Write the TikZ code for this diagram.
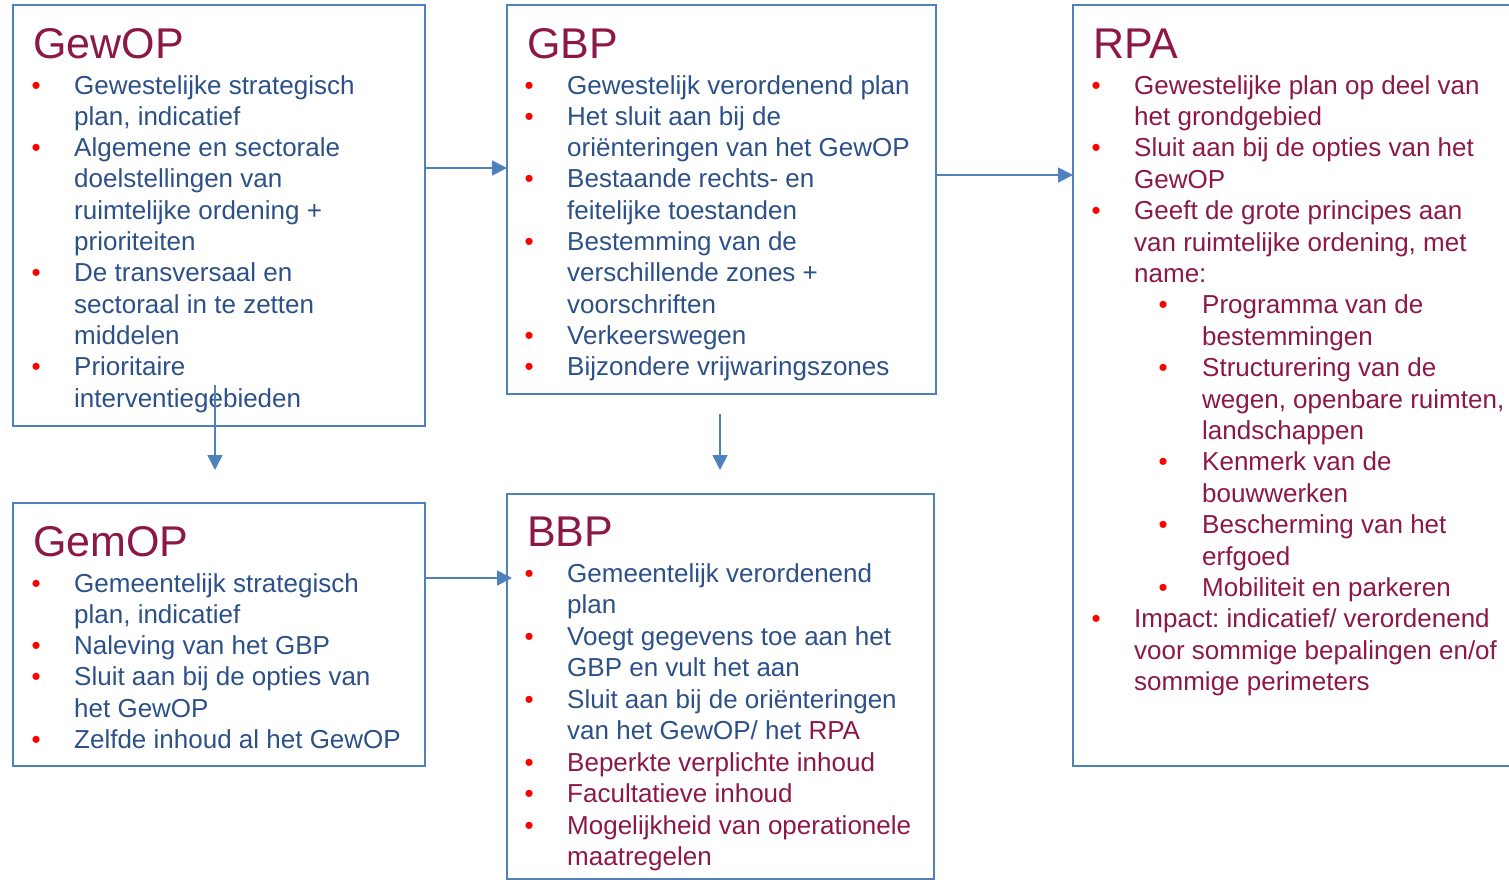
\documentclass[tikz,border=0pt]{standalone}
\usepackage{fontspec}
\setmainfont{Liberation Sans}
\usetikzlibrary{arrows.meta,calc}
\frenchspacing
\definecolor{bordblue}{RGB}{79,129,189}
\definecolor{txtblue}{RGB}{44,80,136}
\definecolor{titmaroon}{RGB}{140,24,72}
\definecolor{bulred}{RGB}{255,0,0}
\newcommand{\bul}{\makebox[0pt][c]{\textcolor{bulred}{\textbullet}}}
\newcommand{\itm}[1]{\hangindent=38pt\hangafter=1\noindent\makebox[38pt][l]{\bul}#1\par}
\newcommand{\subitm}[1]{\hangindent=106pt\hangafter=1\noindent\makebox[106pt][l]{\hspace{67pt}\bul}#1\par}
\newcommand{\btext}[1]{\vtop{\hsize=440pt\parindent=0pt\parskip=0pt\leftskip=0pt\rightskip=0pt plus 1fil #1}}
\tikzset{
  box/.style={draw=bordblue, line width=1.8pt, inner sep=0pt, outer sep=0pt, anchor=north west},
  ttl/.style={anchor=base west, inner sep=0pt, text=titmaroon, font=\fontsize{43}{43}\selectfont},
  body/.style={anchor=base west, inner sep=0pt, font=\fontsize{26}{31.3}\selectfont},
  arr/.style={draw=bordblue, line width=1.8pt, -{Triangle[length=15pt,width=15pt]}}
}
\begin{document}
\begin{tikzpicture}[x=1pt,y=-1pt]
\useasboundingbox (0,0) rectangle (1509,881);
\clip (0,0) rectangle (1509,881);
% boxes
\node[box, minimum width=412pt, minimum height=421pt] (gewop) at (13,5) {};
\node[box, minimum width=429pt, minimum height=389pt] (gbp) at (507,5) {};
\node[box, minimum width=445pt, minimum height=761pt] (rpa) at (1073,5) {};
\node[box, minimum width=412pt, minimum height=263pt] (gemop) at (13,503) {};
\node[box, minimum width=427pt, minimum height=385pt] (bbp) at (507,494) {};
% titles
\node[ttl] (gewopT) at (33,58) {GewOP};
\node[ttl] (gbpT) at (527,58) {GBP};
\node[ttl] (rpaT) at (1093,58) {RPA};
\node[ttl] (gemopT) at (33,556) {GemOP};
\node[ttl] (bbpT) at (527,546) {BBP};
% bodies
\node[body, text=txtblue] (gewopB) at (36,94) {\btext{%
\itm{Gewestelijke strategisch\newline plan, indicatief}
\itm{Algemene en sectorale\newline doelstellingen van\newline ruimtelijke ordening +\newline prioriteiten}
\itm{De transversaal en\newline sectoraal in te zetten\newline middelen}
\itm{Prioritaire\newline interventiegebieden}}};
\node[body, text=txtblue] (gbpB) at (529,94) {\btext{%
\itm{Gewestelijk verordenend plan}
\itm{Het sluit aan bij de\newline oriënteringen van het GewOP}
\itm{Bestaande rechts- en\newline feitelijke toestanden}
\itm{Bestemming van de\newline verschillende zones +\newline voorschriften}
\itm{Verkeerswegen}
\itm{Bijzondere vrijwaringszones}}};
\node[body, text=titmaroon, font=\fontsize{26}{31.4}\selectfont] (rpaB) at (1096,94) {\btext{%
\itm{Gewestelijke plan op deel van\newline het grondgebied}
\itm{Sluit aan bij de opties van het\newline GewOP}
\itm{Geeft de grote principes aan\newline van ruimtelijke ordening, met\newline name:}
\subitm{Programma van de\newline bestemmingen}
\subitm{Structurering van de\newline wegen, openbare ruimten,\newline landschappen}
\subitm{Kenmerk van de\newline bouwwerken}
\subitm{Bescherming van het\newline erfgoed}
\subitm{Mobiliteit en parkeren}
\itm{Impact: indicatief/ verordenend\newline voor sommige bepalingen en/of\newline sommige perimeters}}};
\node[body, text=txtblue] (gemopB) at (36,592) {\btext{%
\itm{Gemeentelijk strategisch\newline plan, indicatief}
\itm{Naleving van het GBP}
\itm{Sluit aan bij de opties van\newline het GewOP}
\itm{Zelfde inhoud al het GewOP}}};
\node[body, text=txtblue, font=\fontsize{26}{31.5}\selectfont] (bbpB) at (529,582) {\btext{%
\itm{Gemeentelijk verordenend\newline plan}
\itm{Voegt gegevens toe aan het\newline GBP en vult het aan}
\itm{Sluit aan bij de oriënteringen\newline van het GewOP/ het \textcolor{titmaroon}{RPA}}
\itm{\textcolor{titmaroon}{Beperkte verplichte inhoud}}
\itm{\textcolor{titmaroon}{Facultatieve inhoud}}
\itm{\textcolor{titmaroon}{Mogelijkheid van operationele\newline maatregelen}}}};
% connectors
\draw[arr] ($(gewop.north east)+(0,163)$) -- ($(gbp.north west)+(0,163)$);
\draw[arr] ($(gbp.north east)+(0,170)$) -- ($(rpa.north west)+(0,170)$);
\coordinate (a1) at ($(gewop.north west)+(202,380)$);
\draw[arr] (a1) -- ($(gemop.north west)+(202,-33)$);
\draw[arr] ($(gbp.south west)+(213,20)$) -- ($(bbp.north west)+(213,-24)$);
\draw[arr] ($(gemop.north east)+(0,75)$) -- ($(bbp.north west)+(5,84)$);
\end{tikzpicture}
\end{document}
